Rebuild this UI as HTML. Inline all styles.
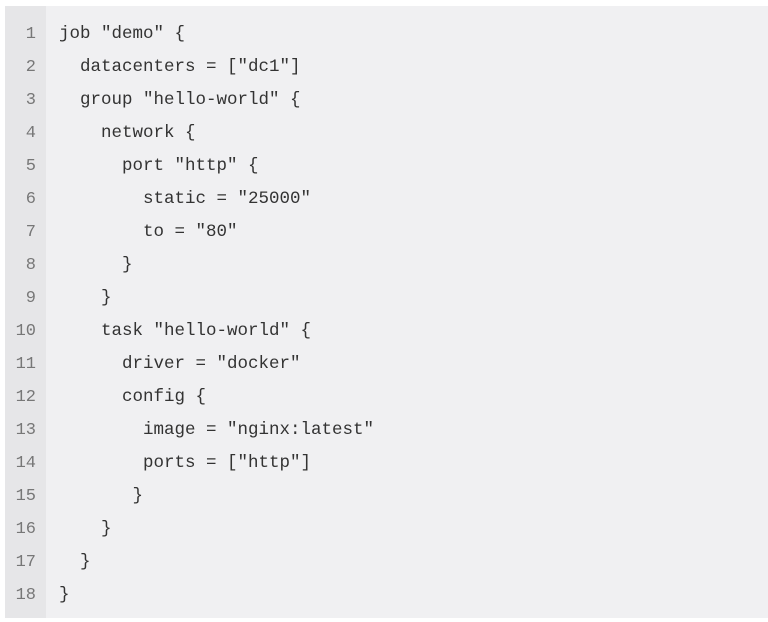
<!DOCTYPE html>
<html><head><style>
html,body{margin:0;padding:0;background:#fff;width:768px;height:622px;overflow:hidden}
.box{position:absolute;left:5px;top:6px;width:763px;height:612px;background:#f0f0f2}
.gut{position:absolute;left:5px;top:6px;width:41px;height:612px;background:#e6e6e8}
.n{position:absolute;width:36px;text-align:right;color:#777;font-family:"Liberation Mono",monospace;font-size:17px;line-height:33px;height:33px}
.c{position:absolute;left:59px;color:#333;font-family:"Liberation Mono",monospace;font-size:17.5px;line-height:33px;white-space:pre}
</style></head><body>
<div class="box"></div><div class="gut"></div>
<div style="position:absolute;top:18px;left:0">
<div class="n" style="top:0">1</div><div class="c" style="top:0">job "demo" {</div>
<div class="n" style="top:33px">2</div><div class="c" style="top:33px">  datacenters = ["dc1"]</div>
<div class="n" style="top:66px">3</div><div class="c" style="top:66px">  group "hello-world" {</div>
<div class="n" style="top:99px">4</div><div class="c" style="top:99px">    network {</div>
<div class="n" style="top:132px">5</div><div class="c" style="top:132px">      port "http" {</div>
<div class="n" style="top:165px">6</div><div class="c" style="top:165px">        static = "25000"</div>
<div class="n" style="top:198px">7</div><div class="c" style="top:198px">        to = "80"</div>
<div class="n" style="top:231px">8</div><div class="c" style="top:231px">      }</div>
<div class="n" style="top:264px">9</div><div class="c" style="top:264px">    }</div>
<div class="n" style="top:297px">10</div><div class="c" style="top:297px">    task "hello-world" {</div>
<div class="n" style="top:330px">11</div><div class="c" style="top:330px">      driver = "docker"</div>
<div class="n" style="top:363px">12</div><div class="c" style="top:363px">      config {</div>
<div class="n" style="top:396px">13</div><div class="c" style="top:396px">        image = "nginx:latest"</div>
<div class="n" style="top:429px">14</div><div class="c" style="top:429px">        ports = ["http"]</div>
<div class="n" style="top:462px">15</div><div class="c" style="top:462px">       }</div>
<div class="n" style="top:495px">16</div><div class="c" style="top:495px">    }</div>
<div class="n" style="top:528px">17</div><div class="c" style="top:528px">  }</div>
<div class="n" style="top:561px">18</div><div class="c" style="top:561px">}</div>
</div>
</body></html>
